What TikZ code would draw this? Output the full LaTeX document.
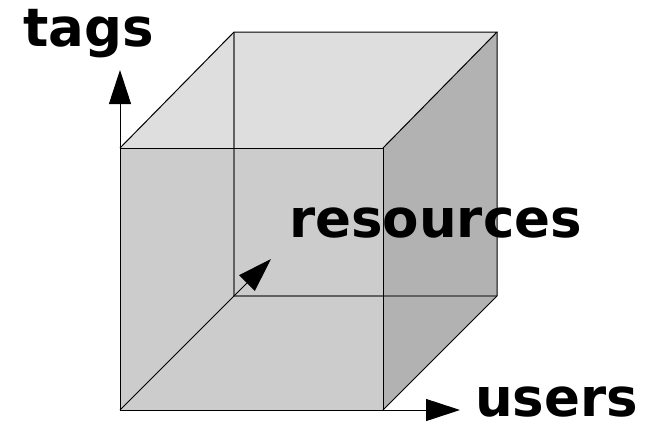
\documentclass[tikz,border=0pt]{standalone}
\usepackage{fontspec}
\setmainfont{DejaVu Sans}
\usetikzlibrary{arrows.meta}

\begin{document}
\begin{tikzpicture}[
    x=1pt, y=-1pt,
    edge/.style={
      draw=black,
      line width=1pt
    },
    hidden/.style={
      draw=black!62,
      line width=1.3pt
    },
    axis/.style={
      -{Triangle[length=34pt, width=22pt]},
      line width=1pt
    },
    axislabel/.style={
      font=\fontsize{53}{60}\selectfont\bfseries,
      inner sep=0pt,
      anchor=base west
    }
]
\useasboundingbox (0,0) rectangle (654,424);

% Cube corners
\coordinate (f1) at (120,148);
\coordinate (f2) at (383,148);
\coordinate (f3) at (383,410);
\coordinate (f4) at (120,410);
\coordinate (b1) at (234,32);
\coordinate (b2) at (497,32);
\coordinate (b3) at (497,296);
\coordinate (b4) at (234,296);

% Faces
\fill [black!13] (f1) -- (b1) -- (b2) -- (f2) -- cycle;
\fill [black!30] (f2) -- (b2) -- (b3) -- (f3) -- cycle;
\fill [black!20] (f1) -- (f2) -- (f3) -- (f4) -- cycle;

% Hidden edges
\draw [hidden] (b1) -- (b4) -- (b3);
\draw [edge] (b4) -- (f4);

% Visible edges
\draw [edge] (f1) -- (f2) -- (f3) -- (f4) -- cycle;
\draw [edge] (f1) -- (b1) -- (b2) -- (f2);
\draw [edge] (b2) -- (b3) -- (f3);

% Axes
\coordinate (tagsend) at (120,70);
\coordinate (usersend) at (460,410);
\coordinate (resend) at (271,259);
\draw [axis] (f1) -- (tagsend);
\draw [axis] (f3) -- (usersend);
\draw [axis] (b4) -- (resend);

% Labels
\node (tags) [axislabel] at (23,46) {tags};
\node (resources) [axislabel] at (289,237) {resources};
\node (users) [axislabel] at (475,416) {users};

\end{tikzpicture}
\end{document}
